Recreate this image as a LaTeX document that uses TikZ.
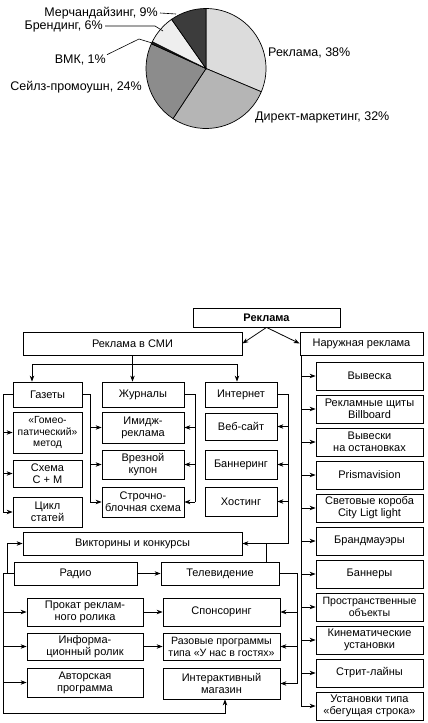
\documentclass[tikz,border=0pt]{standalone}
\usepackage{fontspec}
\setmainfont{Liberation Sans}
\usetikzlibrary{arrows.meta}
\definecolor{cR}{HTML}{DCDCDC}
\definecolor{cD}{HTML}{B5B5B5}
\definecolor{cS}{HTML}{8C8C8C}
\definecolor{cV}{HTML}{1E1E1E}
\definecolor{cB}{HTML}{EEEEEE}
\definecolor{cM}{HTML}{3C3C3C}
\begin{document}
\begin{tikzpicture}[x=1pt,y=-1pt,
  bx/.style={draw, line width=0.8pt, inner sep=0pt, align=center, font=\fontsize{11}{12}\selectfont},
  ln/.style={line width=0.8pt},
  arr/.style={line width=0.8pt, -{Stealth[length=6pt,width=4.5pt]}},
  lbl/.style={font=\fontsize{12.5}{14}\selectfont, inner sep=0pt},
  lead/.style={line width=0.6pt},
  slice/.style={draw, line width=0.7pt}]
\useasboundingbox (0,0) rectangle (428,723);

% ---------- pie ----------
\begin{scope}[shift={(206,68.5)}]
\filldraw[slice, fill=cR] (0,0) -- (-90:60) arc[start angle=-90, end angle=22.8, radius=60] -- cycle;
\filldraw[slice, fill=cD] (0,0) -- (22.8:60) arc[start angle=22.8, end angle=123.4, radius=60] -- cycle;
\filldraw[slice, fill=cS] (0,0) -- (123.4:60) arc[start angle=123.4, end angle=204.4, radius=60] -- cycle;
\filldraw[slice, fill=cV] (0,0) -- (204.4:60) arc[start angle=204.4, end angle=206.5, radius=60] -- cycle;
\filldraw[slice, fill=cB] (0,0) -- (206.5:60) arc[start angle=206.5, end angle=235, radius=60] -- cycle;
\filldraw[slice, fill=cM] (0,0) -- (235:60) arc[start angle=235, end angle=270, radius=60] -- cycle;
\end{scope}

\node[lbl, anchor=west] (lR) at (268,53) {Реклама, 38\%};
\node[lbl, anchor=west] (lD) at (255,117) {Директ-маркетинг, 32\%};
\node[lbl, anchor=east] (lS) at (142,87) {Сейлз-промоушн, 24\%};
\node[lbl, anchor=east] (lV) at (106,60) {ВМК, 1\%};
\node[lbl, anchor=east] (lB) at (103,26) {Брендинг, 6\%};
\node[lbl, anchor=east] (lM) at (158,13) {Мерчандайзинг, 9\%};
\coordinate (pM) at (176,14);
\coordinate (pB1) at (155,26);
\coordinate (pB2) at (163,31);
\coordinate (pV1) at (139,39);
\coordinate (pV2) at (152,43);
\draw[lead] ([xshift=2pt]lM.east) -- (pM);
\draw[lead] ([xshift=2pt]lB.east) -- (pB1) -- (pB2);
\draw[lead] ([xshift=1pt]lV.north east) -- (pV1) -- (pV2);

% ---------- top ----------
\node[bx, minimum width=147pt, minimum height=19pt, font=\fontsize{11}{12}\selectfont\bfseries] (rek) at (266.5,317.5) {Реклама};
\node[bx, minimum width=219pt, minimum height=23pt] (smi) at (132.5,343.5) {Реклама в СМИ};
\node[bx, minimum width=123pt, minimum height=23pt] (nar) at (361.5,343.5) {Наружная реклама};
\draw[arr] (rek.south) -- (smi.east);
\draw[arr] (rek.south) -- (nar.west);

% columns
\node[bx, minimum width=69pt, minimum height=25pt] (gaz) at (47.5,394.5) {Газеты};
\node[bx, minimum width=69pt, minimum height=41pt, font=\fontsize{10.3}{11.8}\selectfont] (gom) at (47.5,432.5) {«Гомео-\\патический»\\метод};
\node[bx, minimum width=69pt, minimum height=27pt] (sxm) at (47.5,473.5) {Схема\\С + М};
\node[bx, minimum width=69pt, minimum height=30pt] (cyk) at (47.5,512) {Цикл\\статей};

\node[bx, minimum width=82pt, minimum height=25pt] (zh) at (143,394.5) {Журналы};
\node[bx, minimum width=82pt, minimum height=31pt] (im) at (143,427.5) {Имидж-\\реклама};
\node[bx, minimum width=82pt, minimum height=29pt] (vr) at (143,464.5) {Врезной\\купон};
\node[bx, minimum width=82pt, minimum height=30pt] (st) at (143,502) {Строчно-\\блочная схема};

\node[bx, minimum width=72pt, minimum height=25pt] (int) at (241,394.5) {Интернет};
\node[bx, minimum width=72pt, minimum height=27pt] (web) at (241,426.5) {Веб-сайт};
\node[bx, minimum width=72pt, minimum height=29pt] (ban) at (241,464.5) {Баннеринг};
\node[bx, minimum width=72pt, minimum height=29pt] (host) at (241,501.5) {Хостинг};

\coordinate (hL) at (32,364);
\coordinate (hR) at (237,364);
\draw[ln] (hL) -- (hR);
\draw[arr] (hL) -- (hL |- gaz.north);
\draw[arr] (hR) -- (hR |- int.north);
\draw[arr] (smi.south) -- (smi.south |- zh.north);

\coordinate (gl) at (3,0);
\coordinate (gr) at (90,0);
\coordinate (zr) at (195,0);
\coordinate (ir) at (288,0);
\draw[ln] (gaz.west) -| (gl |- cyk.west);
\draw[arr] (gl |- gom.west) -- (gom.west);
\draw[arr] (gl |- sxm.west) -- (sxm.west);
\draw[arr] (gl |- cyk.west) -- (cyk.west);
\draw[ln] (gaz.east) -| (gr |- st.west);
\draw[arr] (gr |- im.west) -- (im.west);
\draw[arr] (gr |- vr.west) -- (vr.west);
\draw[arr] (gr |- st.west) -- (st.west);
\draw[ln] (zh.east) -| (zr |- st.east);
\draw[arr] (zr |- im.east) -- (im.east);
\draw[arr] (zr |- vr.east) -- (vr.east);
\draw[arr] (zr |- st.east) -- (st.east);

% middle
\node[bx, minimum width=219pt, minimum height=23pt] (vik) at (132.5,543.5) {Викторины и конкурсы};
\node[bx, minimum width=123pt, minimum height=23pt] (radio) at (75.5,573.5) {Радио};
\node[bx, minimum width=118pt, minimum height=23pt] (tv) at (220,573.5) {Телевидение};

\draw[arr] (int.east) -| (ir |- vik.east) -- (vik.east);
\draw[arr] (ir |- web.east) -- (web.east);
\draw[arr] (ir |- ban.east) -- (ban.east);
\draw[arr] (ir |- host.east) -- (host.east);
\coordinate (tu) at (266,0);
\draw[ln] (tv.north -| tu) -- (tu |- vik.east);
\draw[arr] (radio.east) -- (tv.west);

% bottom
\node[bx, minimum width=116pt, minimum height=28pt] (prokat) at (85,612) {Прокат реклам-\\ного ролика};
\node[bx, minimum width=116pt, minimum height=27pt] (info) at (85,646.5) {Информа-\\ционный ролик};
\node[bx, minimum width=116pt, minimum height=29pt] (avt) at (85,682.5) {Авторская\\программа};
\node[bx, minimum width=117pt, minimum height=28pt] (spon) at (221.5,612) {Спонсоринг};
\node[bx, minimum width=117pt, minimum height=27pt, font=\fontsize{10.6}{12}\selectfont] (raz) at (221.5,646.5) {Разовые программы\\типа «У нас в гостях»};
\node[bx, minimum width=117pt, minimum height=31pt] (inter) at (221.5,683.5) {Интерактивный\\магазин};

\coordinate (ra) at (7,0);
\coordinate (rb) at (3,0);
\coordinate (bot) at (225,713);
\draw[arr] (radio.west) -| (ra |- vik.west) -- (vik.west);
\draw[arr] (radio.west) -- (rb |- radio.west) -- (rb |- bot) -- (bot) -- (bot |- inter.south);
\draw[arr] (rb |- prokat.west) -- (prokat.west);
\draw[arr] (rb |- info.west) -- (info.west);
\draw[arr] (rb |- avt.west) -- (avt.west);
\draw[arr] (prokat.east) -- (spon.west);
\draw[arr] (info.east) -- (raz.west);

\coordinate (tr) at (297,0);
\draw[ln] (tv.east) -| (tr |- inter.east);
\draw[arr] (tr |- spon.east) -- (spon.east);
\draw[arr] (tr |- raz.east) -- (raz.east);
\draw[arr] (tr |- inter.east) -- (inter.east);

% outdoor column
\node[bx, minimum width=107pt, minimum height=28pt] (o1) at (369.5,376) {Вывеска};
\node[bx, minimum width=107pt, minimum height=28pt] (o2) at (369.5,409) {Рекламные щиты\\Billboard};
\node[bx, minimum width=107pt, minimum height=28pt] (o3) at (369.5,442) {Вывески\\на остановках};
\node[bx, minimum width=107pt, minimum height=28pt] (o4) at (369.5,475) {Prismavision};
\node[bx, minimum width=107pt, minimum height=28pt] (o5) at (369.5,508) {Световые короба\\City Ligt light};
\node[bx, minimum width=107pt, minimum height=28pt] (o6) at (369.5,541) {Брандмауэры};
\node[bx, minimum width=107pt, minimum height=28pt] (o7) at (369.5,574) {Баннеры};
\node[bx, minimum width=107pt, minimum height=28pt, font=\fontsize{10.6}{12}\selectfont] (o8) at (369.5,607) {Пространственные\\объекты};
\node[bx, minimum width=107pt, minimum height=28pt] (o9) at (369.5,640) {Кинематические\\установки};
\node[bx, minimum width=107pt, minimum height=28pt] (o10) at (369.5,673) {Стрит-лайны};
\node[bx, minimum width=107pt, minimum height=28pt] (o11) at (369.5,706) {Установки типа\\«бегущая строка»};

\coordinate (nx) at (301,0);
\draw[ln] (nar.south -| nx) -- (nx |- o11.west);
\foreach \o in {o1,o2,o3,o4,o5,o6,o7,o8,o9,o10,o11}
  \draw[arr] (nx |- \o.west) -- (\o.west);
\end{tikzpicture}
\end{document}
